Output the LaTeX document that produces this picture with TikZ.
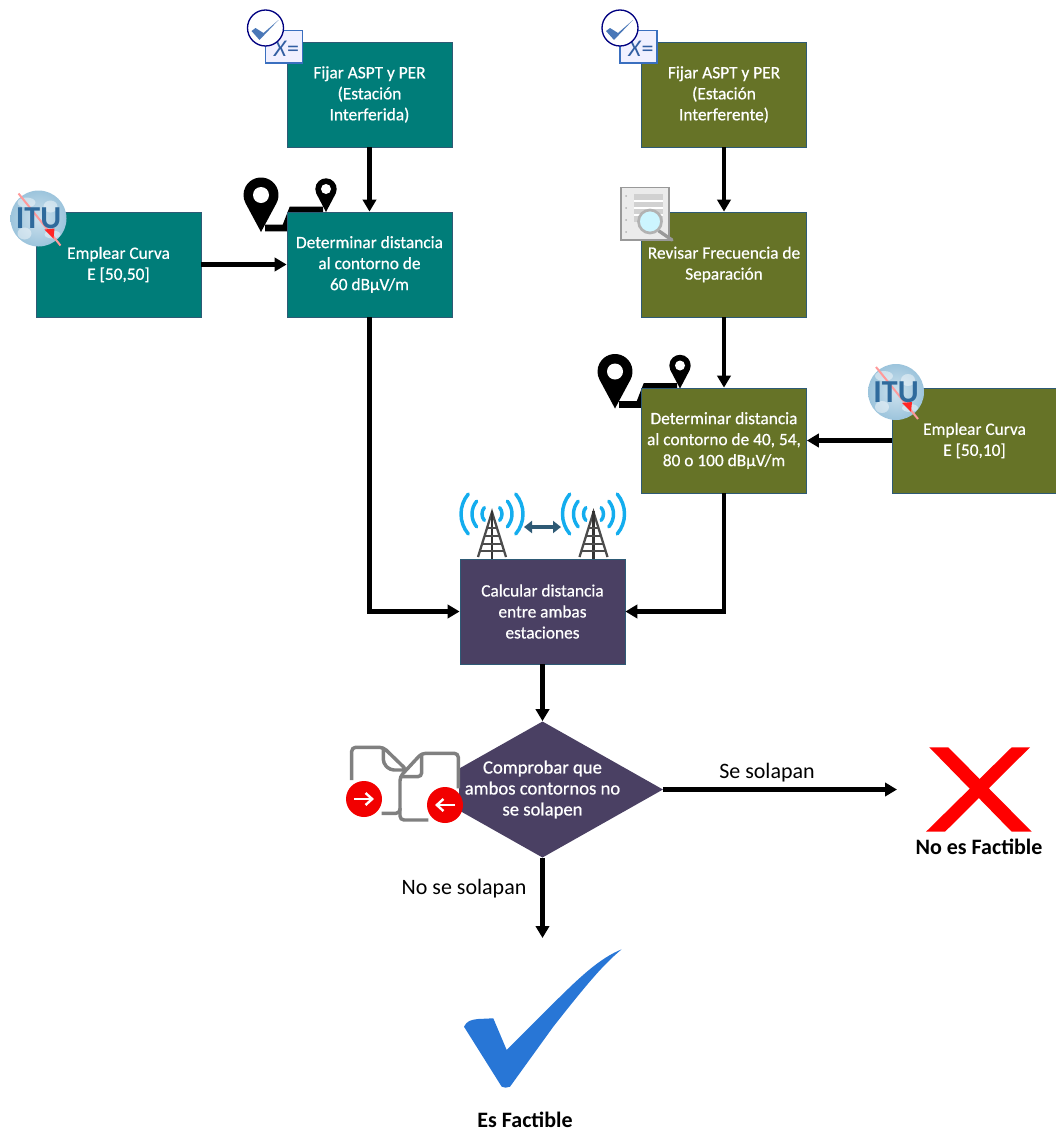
\documentclass[tikz,border=0pt]{standalone}
\usepackage{fontspec}
\setmainfont{Carlito}
\newfontface\boxfont{Carlito}[FakeBold=0.6]
\usetikzlibrary{shapes.geometric, arrows.meta}
\definecolor{tealfill}{HTML}{007D79}
\definecolor{olivefill}{HTML}{667327}
\definecolor{purplefill}{HTML}{4A4063}
\definecolor{boxedge}{HTML}{2E5A75}
\definecolor{wavecyan}{HTML}{14ADEE}
\definecolor{badgeblue}{HTML}{3A6FBF}
\definecolor{tickblue}{HTML}{4A78B8}
\definecolor{globeblue}{HTML}{9CC4DC}
\definecolor{ituink}{HTML}{2F6A9C}
\definecolor{bigtick}{HTML}{2876D6}
\definecolor{docgrey}{HTML}{808080}
\tikzset{
  flowbox/.style={draw=boxedge, line width=0.6pt, minimum width=123.75pt, minimum height=78.75pt,
    inner sep=0pt, align=center, text=white, font=\boxfont\fontsize{13}{15.75}\selectfont},
  tealbox/.style={flowbox, fill=tealfill},
  olivebox/.style={flowbox, fill=olivefill},
  purplebox/.style={flowbox, fill=purplefill},
  checkdiamond/.style={diamond, aspect=1.77, fill=purplefill, minimum width=180pt, minimum height=102pt,
    inner sep=-2.3pt, align=center, text=white, font=\boxfont\fontsize{14}{15.75}\selectfont},
  flowarrow/.style={line width=3.6pt, -{Triangle[width=10pt,length=9pt]}},
  flowlabel/.style={font=\fontsize{16.5}{18}\selectfont},
  resultlabel/.style={font=\fontsize{16.5}{18}\selectfont\bfseries},
  % Fixed icons
  badge/.pic={
    \fill[fill=blue!6, draw=badgeblue, line width=1.2pt] (0,2.5) rectangle (37,35);
    \node[text=badgeblue!85!black, font=\fontsize{18}{18}\selectfont, inner sep=0pt] (-sign) at (21,21) {\textit{X}=};
    \filldraw[fill=white, draw=blue!50!black, line width=1pt] (0,0) circle (18);
    \fill[tickblue] (-14,3) -- (-6,12) -- (13,-8) -- (-2,5) -- (-10,0) -- cycle;
  },
  pinroute/.pic={
    \draw[line width=5pt] (4,33) -- (24,33) -- (31,15) -- (62,15);
    \fill (0,37) -- (28:17.5) arc[start angle=28, end angle=-208, radius=17.5] -- cycle;
    \fill[white] (0,0) circle (8);
    \begin{scope}[shift={(65,-6)}]
      \fill (0,23) -- (25:10.7) arc[start angle=25, end angle=-205, radius=10.7] -- cycle;
      \fill[white] (0,0) circle (5);
    \end{scope}
  },
  itulogo/.pic={
    \shade[inner color=globeblue!50!white, outer color=globeblue] (0,0) circle (28);
    \fill[white, opacity=0.45] (-12,-16) ellipse (9 and 5);
    \fill[white, opacity=0.45] (12,-12) ellipse (7 and 6);
    \fill[white, opacity=0.45] (-14,15) ellipse (7 and 6);
    \fill[white, opacity=0.45] (14,16) ellipse (8 and 4);
    \draw[red!40!white, line width=1.5pt] (-20,-25) -- (22,27);
    \node[text=ituink, font=\fontsize{24}{24}\selectfont\bfseries, inner sep=0pt] (-name) at (0,0) {ITU};
    \fill[red!85!white] (6,11) -- (16,10) -- (15,20) -- cycle;
  },
  towericon/.pic={
    \draw[wavecyan, line width=2.6pt, line cap=round] (-40:31) arc[start angle=-40, end angle=40, radius=31];
    \draw[wavecyan, line width=2.6pt, line cap=round] (-40:20) arc[start angle=-40, end angle=40, radius=20];
    \draw[wavecyan, line width=2.6pt, line cap=round] (-40:10) arc[start angle=-40, end angle=40, radius=10];
    \draw[wavecyan, line width=2.6pt, line cap=round] (220:31) arc[start angle=220, end angle=140, radius=31];
    \draw[wavecyan, line width=2.6pt, line cap=round] (220:20) arc[start angle=220, end angle=140, radius=20];
    \draw[wavecyan, line width=2.6pt, line cap=round] (220:10) arc[start angle=220, end angle=140, radius=10];
    \draw[black!70, line width=1.7pt] (-14,43) -- (0,-2) -- (14,43);
    \draw[black!80, line width=2pt] (0,-3) -- (0,45);
    \draw[black!70, line width=1.3pt] (-5,14) -- (5,14) (-7.5,22) -- (7.5,22) (-10,30) -- (10,30) (-12,37) -- (12,37);
  },
}
\begin{document}
\begin{tikzpicture}[x=0.75pt, y=-0.75pt]
    \useasboundingbox (0,0) rectangle (1056,1132);

    % Route pins behind the boxes
    \pic at (261,195) {pinroute};
    \pic at (615,371.5) {pinroute};

    % Left column
    \node[tealbox] (fijarA) at (369.5,94.5) {Fijar ASPT y PER\\(Estación\\Interferida)};
    \node[tealbox] (curvaA) at (118.5,264.5) {Emplear Curva\\E [50,50]};
    \node[tealbox] (distA) at (369.5,264.5) {Determinar distancia\\al contorno de\\60 dBµV/m};

    % Right column
    \node[olivebox] (fijarB) at (724,94.5) {Fijar ASPT y PER\\(Estación\\Interferente)};
    \node[olivebox] (revisar) at (724,264.5) {Revisar Frecuencia de\\Separación};
    \node[olivebox] (distB) at (724,440.5) {Determinar distancia\\al contorno de 40, 54,\\80 o 100 dBµV/m};
    \node[olivebox] (curvaB) at (974.5,440.5) {Emplear Curva\\E [50,10]};

    % Common steps
    \node[purplebox] (calc) at (542.5,611.5) {Calcular distancia\\entre ambas\\estaciones};
    \node[checkdiamond] (comprobar) at (542.5,789.5) {Comprobar que\\ambos contornos no\\se solapen};

    % Free ends
    \coordinate (finNo) at (897,789.5);
    \coordinate (finSi) at (542.5,938);
    \coordinate (enlaceA) at (524,527);
    \coordinate (enlaceB) at (561,527);

    % Connectors
    \draw[flowarrow] (fijarA) -- (distA);
    \draw[flowarrow] (curvaA) -- (distA);
    \draw[flowarrow] (distA) |- (calc);
    \draw[flowarrow] (fijarB) -- (revisar);
    \draw[flowarrow] (revisar) -- (distB);
    \draw[flowarrow] (curvaB) -- (distB);
    \draw[flowarrow] (distB) |- (calc);
    \draw[flowarrow] (calc) -- (comprobar);
    \draw[flowarrow] (comprobar.east) -- (finNo);
    \draw[flowarrow] (comprobar.south) -- (finSi);
    \draw[draw=boxedge, line width=3pt, {Triangle[width=9pt,length=6pt]}-{Triangle[width=9pt,length=6pt]}] (enlaceA) -- (enlaceB);

    \node[flowlabel] (seLabel) at (767,773) {Se solapan};
    \node[flowlabel] (noLabel) at (464,889) {No se solapan};

    % Icons on top of the boxes
    \pic (badgeA) at (265.5,28) {badge};
    \pic (badgeB) at (620,28) {badge};
    \pic (ituA) at (38.5,218.5) {itulogo};
    \pic (ituB) at (896,392) {itulogo};
    \pic at (492,514) {towericon};
    \pic at (593.5,514) {towericon};

    % Document with magnifier
    \fill[black!8, draw=black!40, line width=1.2pt] (621,187.5) rectangle (669,240);
    \fill[black!18] (634,194) rectangle (663,222);
    \draw[white, line width=1pt] (634,201) -- (663,201) (634,208) -- (663,208) (634,215) -- (663,215);
    \fill[black!30] (626,196) circle (1) (626,208) circle (1) (626,220) circle (1) (626,232) circle (1);
    \draw[black!40, line width=2.5pt, line cap=round] (659,231) -- (672,240);
    \filldraw[fill=blue!20!cyan!20!white, draw=black!30, line width=2pt] (650,221.5) circle (11.5);

    % Overlapping documents
    \fill[white] (346,742) rectangle (459,826);
    \draw[docgrey, line width=2.6pt, rounded corners=3pt]
        (351.7,780) -- (351.7,747.3) -- (383.3,747.3) -- (406.7,770) -- (390,770) -- (383.3,763.3) -- (383.3,747.3);
    \draw[docgrey, line width=2.6pt, rounded corners=3pt]
        (381.7,813.3) -- (400,813.3) -- (400,776.7) -- (421.7,753.3) -- (458.3,753.3) -- (458.3,788.3);
    \draw[docgrey, line width=2.6pt, rounded corners=3pt]
        (400,808) -- (400,820) -- (428.3,820);
    \draw[docgrey, line width=2.6pt, rounded corners=3pt]
        (421.7,753.3) -- (421.7,776.7) -- (401.7,776.7);
    \fill[red!95!black] (364,799) circle (18);
    \fill[red!95!black] (445,805) circle (18);
    \draw[white, line width=1.8pt, -{Straight Barb[length=5pt,width=9pt]}] (354,799) -- (374,799);
    \draw[white, line width=1.8pt, -{Straight Barb[length=5pt,width=9pt]}] (455,805) -- (435,805);

    % Outcomes
    \fill[red] (929.3,747.3) -- (948.3,747.3) -- (1031.7,831.7) -- (1011.7,831.7) -- cycle;
    \fill[red] (1011.7,747.3) -- (1030,747.3) -- (945,831.7) -- (926,831.7) -- cycle;
    \node[resultlabel] (noFactible) at (979,847) {No es Factible};
    \fill[bigtick] (464,1026.7) .. controls (467,1021) and (470,1020) .. (478,1019) -- (493.3,1018.3)
        -- (506.7,1050) -- (556.7,1000) .. controls (580,977) and (600,958) .. (621.7,949.3)
        .. controls (605,963) and (590,980) .. (553.3,1026.7)
        -- (510,1086.7) .. controls (507,1088) and (504,1088) .. (501.7,1086.7) -- cycle;
    \node[resultlabel] (siFactible) at (525,1120) {Es Factible};
\end{tikzpicture}
\end{document}
